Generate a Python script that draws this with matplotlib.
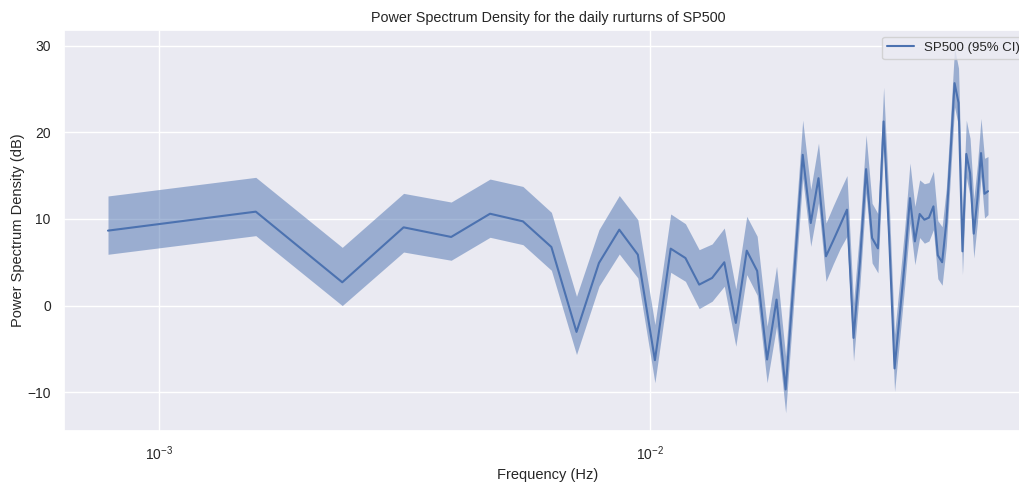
import numpy as np
import matplotlib
matplotlib.use("Agg")
import matplotlib.pyplot as plt
import seaborn as sns

# frequency bins (k / N) and PSD estimate in dB with its 95% CI
bins = np.arange(1, 63)
freq = bins / 1270.0

psd_mean = [8.65, 10.84, 2.69, 9.03, 7.92, 10.6, 9.72, 6.76, -3.04, 4.92,
            8.76, 5.88, -6.3, 6.57, 5.49, 2.42, 3.19, 5.0, -2.0, 6.34,
            4.0, -6.22, 0.69, -9.68, 3.9, 17.4, 9.53, 14.7, 5.69, 7.5,
            9.3, 11.07, -3.73, 5.0, 15.75, 7.8, 6.6, 21.25, 7.9, -7.25,
            -1.0, 5.3, 12.4, 7.41, 10.57, 9.91, 10.15, 11.45, 5.8, 5.0,
            9.6, 17.6, 25.67, 23.4, 6.26, 17.5, 15.3, 8.3, 12.3, 17.6,
            12.9, 13.2]
psd_upper = [12.65, 14.8, 6.72, 12.95, 11.95, 14.6, 13.75, 10.76, 1.07, 8.76,
             12.7, 9.91, -2.19, 10.57, 9.45, 6.45, 7.11, 8.95, 1.92, 10.3,
             8.0, -2.38, 4.53, -5.84, 7.9, 21.4, 13.4, 18.75, 9.53, 11.5,
             13.3, 15.0, 0.3, 9.0, 19.7, 11.8, 10.6, 25.2, 11.9, -3.3,
             3.0, 9.3, 16.45, 11.45, 14.5, 14.06, 14.2, 15.5, 9.8, 9.1,
             13.6, 21.6, 29.7, 27.4, 10.3, 21.4, 19.3, 12.3, 16.3, 21.6,
             17.0, 17.2]
psd_lower = [5.92, 8.07, 0.0, 6.18, 5.23, 7.88, 7.03, 4.07, -5.65, 2.23,
             5.95, 3.19, -8.9, 3.84, 2.8, -0.35, 0.5, 2.23, -4.69, 3.57,
             1.2, -8.9, -2.38, -12.37, 1.2, 14.7, 6.84, 11.84, 2.8, 4.8,
             6.6, 8.0, -6.4, 2.3, 13.0, 4.92, 3.77, 18.5, 5.2, -9.9,
             -3.7, 2.6, 9.53, 4.72, 7.85, 7.2, 7.45, 8.76, 3.1, 2.35,
             6.9, 14.9, 22.9, 20.7, 3.57, 14.8, 12.6, 5.5, 9.6, 14.9,
             10.1, 10.5]

sns.set_theme(style="darkgrid")
plt.rcParams['font.family'] = ['Liberation Sans', 'DejaVu Sans']

fig = plt.figure(figsize=(10.19, 4.87), dpi=100)
ax = fig.add_axes([64 / 1019, 56 / 487, 968 / 1019, 401 / 487])

c = sns.color_palette()[0]
ax.fill_between(freq, psd_lower, psd_upper, color=c, alpha=0.5, linewidth=0)
ax.plot(freq, psd_mean, color=c, linewidth=1.5, label="SP500 (95% CI)")
ax.set_xscale("log")

ax.set_title("Power Spectrum Density for the daily rurturns of SP500", fontsize=10.4)
ax.set_xlabel("Frequency (Hz)", fontsize=10.5)
ax.set_ylabel("Power Spectrum Density (dB)", fontsize=10.5, labelpad=2)
ax.tick_params(labelsize=10)
ax.legend(loc="upper right", fontsize=9.5)

fig.savefig("out.png", dpi=100)
